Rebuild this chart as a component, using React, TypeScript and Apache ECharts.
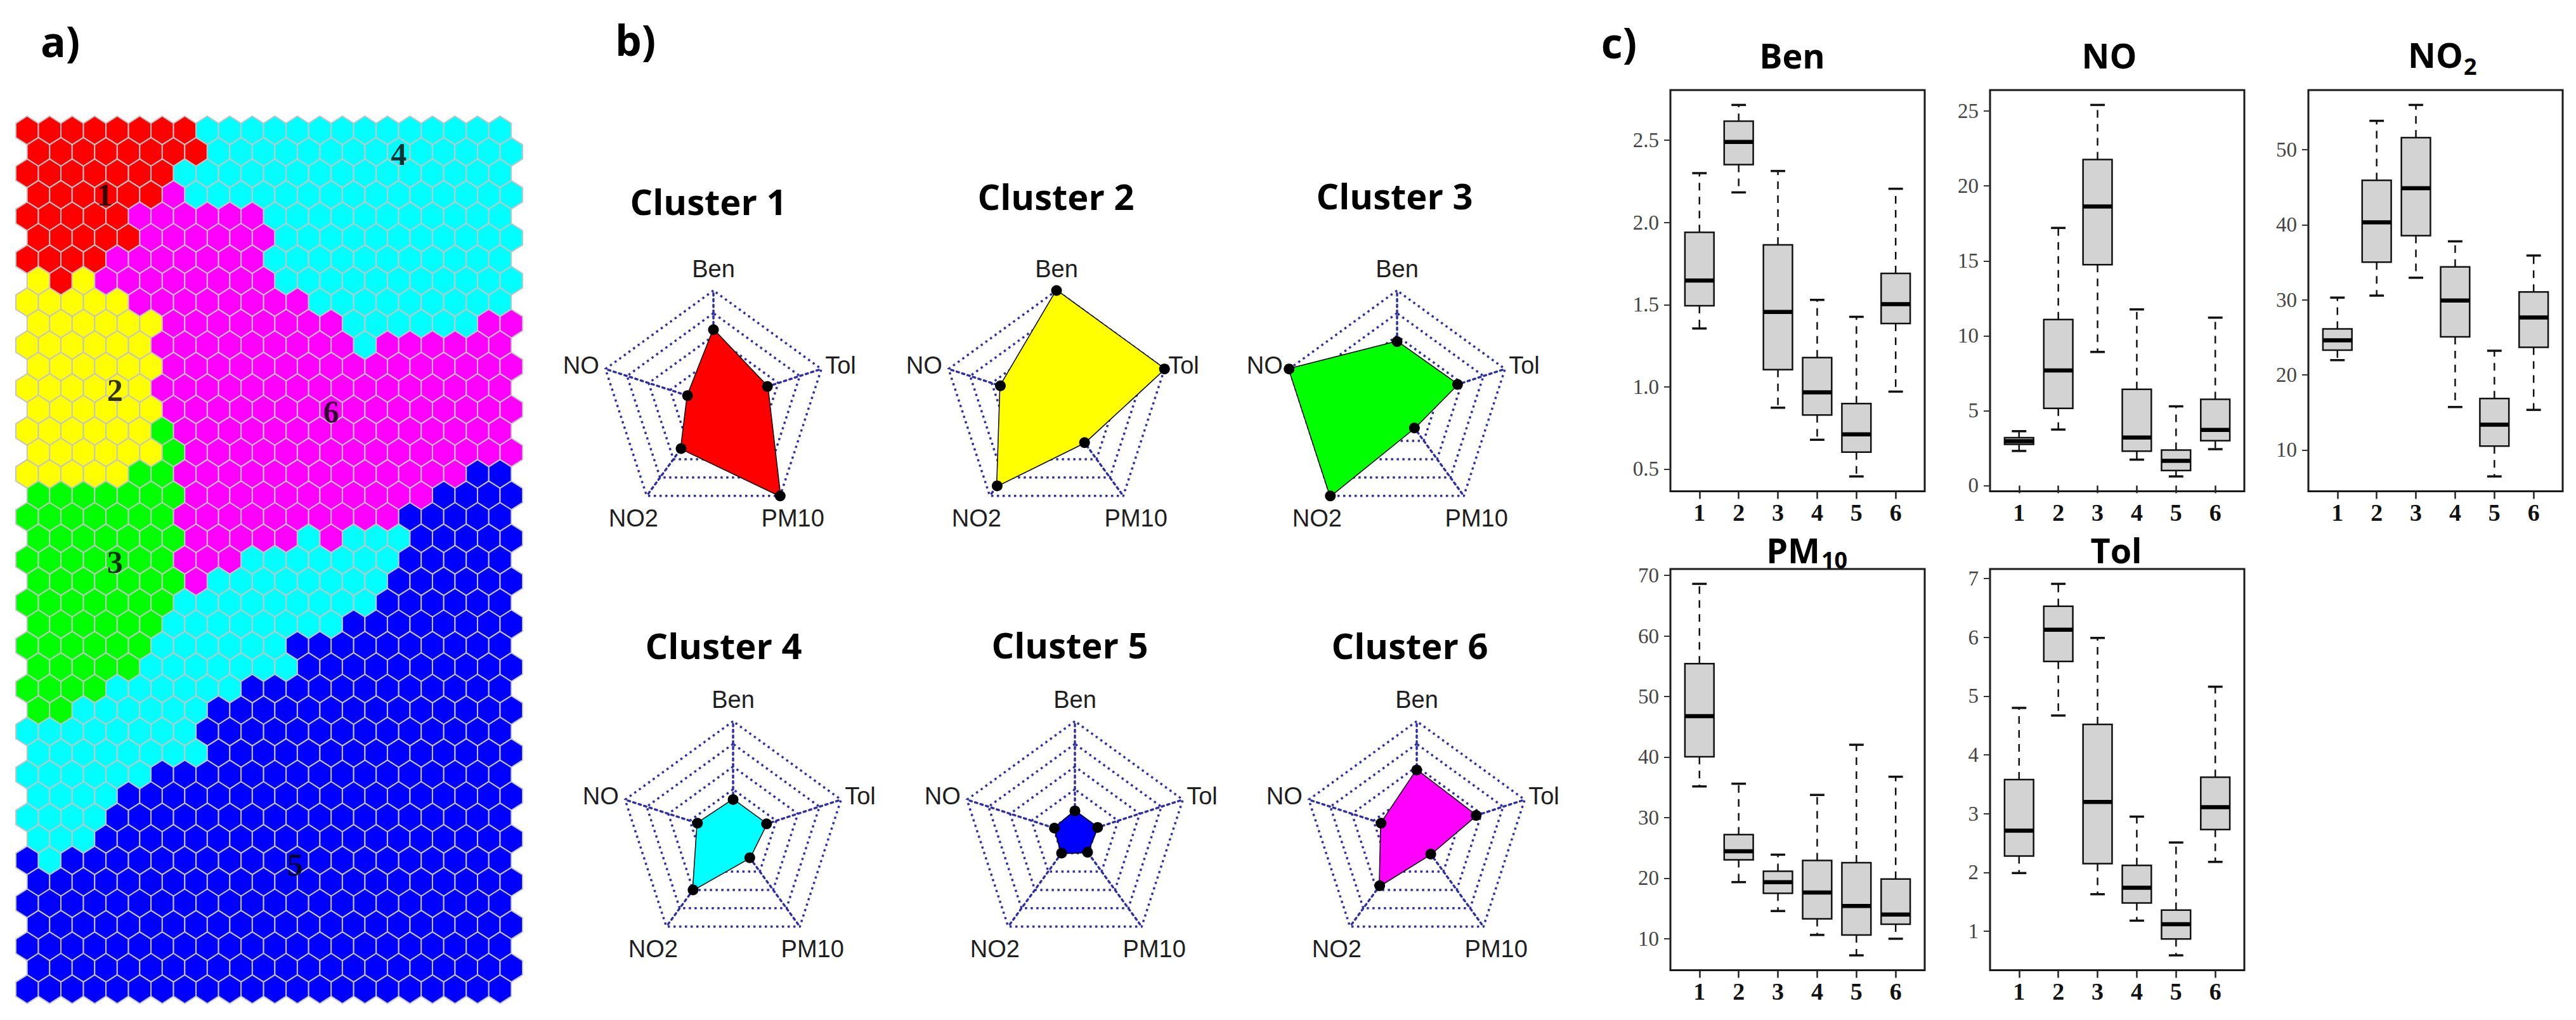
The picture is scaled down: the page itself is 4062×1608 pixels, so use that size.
import React, { useEffect, useRef } from "react";
import * as echarts from "echarts";

const W = 4062;
const H = 1608;

// ---------- colours ----------
const CLUSTER_COLORS = ["#ff0000", "#ffff00", "#00ff00", "#00ffff", "#0000ff", "#ff00ff"];
const HEX_BORDER = "#c4c4c4";
const GRID_BLUE = "#2f2fa2";

// ---------- a) SOM hex map: cluster per hexagon, row by row as [cluster, count] runs ----------
const HEX_ROWS: number[][][] = [
  [[1, 8], [4, 14]],
  [[1, 8], [4, 14]],
  [[1, 7], [4, 15]],
  [[1, 6], [6, 1], [4, 15]],
  [[1, 5], [6, 6], [4, 11]],
  [[1, 5], [6, 6], [4, 11]],
  [[1, 4], [6, 7], [4, 11]],
  [[2, 1], [1, 1], [2, 1], [6, 8], [4, 11]],
  [[2, 5], [6, 8], [4, 9]],
  [[2, 6], [6, 8], [4, 6], [6, 2]],
  [[2, 6], [6, 9], [4, 1], [6, 6]],
  [[2, 6], [6, 16]],
  [[2, 6], [6, 16]],
  [[2, 6], [6, 16]],
  [[2, 6], [3, 1], [6, 15]],
  [[2, 6], [3, 1], [6, 15]],
  [[2, 5], [3, 2], [6, 13], [5, 2]],
  [[3, 7], [6, 11], [5, 4]],
  [[3, 7], [6, 10], [5, 5]],
  [[3, 7], [6, 5], [4, 1], [6, 1], [4, 3], [5, 5]],
  [[3, 7], [6, 3], [4, 7], [5, 5]],
  [[3, 7], [6, 1], [4, 8], [5, 6]],
  [[3, 7], [4, 9], [5, 6]],
  [[3, 6], [4, 8], [5, 8]],
  [[3, 6], [4, 6], [5, 10]],
  [[3, 5], [4, 7], [5, 10]],
  [[3, 4], [4, 6], [5, 12]],
  [[3, 2], [4, 6], [5, 14]],
  [[4, 8], [5, 14]],
  [[4, 8], [5, 14]],
  [[4, 6], [5, 16]],
  [[4, 4], [5, 18]],
  [[4, 4], [5, 18]],
  [[4, 3], [5, 19]],
  [[5, 1], [4, 1], [5, 20]],
  [[5, 22]],
  [[5, 22]],
  [[5, 22]],
  [[5, 22]],
  [[5, 22]],
  [[5, 22]],
];
const HEX_COLS = 22;

// cluster number labels on the map (column, row in map units)
const MAP_LABELS = [
  { name: "1", value: [3.45, 3.0] },
  { name: "4", value: [16.5, 1.1] },
  { name: "2", value: [3.9, 12.1] },
  { name: "6", value: [13.5, 13.1] },
  { name: "3", value: [3.9, 20.1] },
  { name: "5", value: [11.9, 34.2] },
];

// ---------- b) radar profiles (scaled 0..1), axes counter-clockwise from top ----------
const RADAR_AXES = ["Ben", "NO", "NO2", "PM10", "Tol"];
const RADAR_C1 = [0.655, 0.24, 0.485, 1.0, 0.5];
const RADAR_C2 = [1.0, 0.52, 0.89, 0.42, 1.0];
const RADAR_C3 = [0.55, 1.0, 1.0, 0.26, 0.56];
const RADAR_C4 = [0.31, 0.33, 0.6, 0.25, 0.31];
const RADAR_C5 = [0.21, 0.19, 0.2, 0.19, 0.21];
const RADAR_C6 = [0.57, 0.33, 0.555, 0.21, 0.55];
const RADAR_VALUES = [RADAR_C1, RADAR_C2, RADAR_C3, RADAR_C4, RADAR_C5, RADAR_C6];
const CLUSTER_NAMES = ["Cluster 1", "Cluster 2", "Cluster 3", "Cluster 4", "Cluster 5", "Cluster 6"];

// ---------- c) box plots: [min, Q1, median, Q3, max] for clusters 1..6 ----------
const CLUSTERS = [1, 2, 3, 4, 5, 6];
const BOX_BEN = [
  [1.355, 1.493, 1.647, 1.94, 2.3],
  [2.183, 2.352, 2.49, 2.616, 2.715],
  [0.873, 1.105, 1.456, 1.864, 2.313],
  [0.678, 0.829, 0.967, 1.178, 1.529],
  [0.455, 0.603, 0.711, 0.898, 1.426],
  [0.971, 1.385, 1.503, 1.69, 2.205],
];
const BOX_NO = [
  [2.31, 2.75, 2.96, 3.2, 3.63],
  [3.74, 5.15, 7.68, 11.08, 17.2],
  [8.92, 14.75, 18.63, 21.76, 25.41],
  [1.73, 2.3, 3.21, 6.42, 11.76],
  [0.61, 1.0, 1.65, 2.37, 5.29],
  [2.43, 3.0, 3.72, 5.76, 11.21],
];
const BOX_NO2 = [
  [21.97, 23.3, 24.62, 26.13, 30.3],
  [30.57, 35.03, 40.34, 45.94, 53.86],
  [32.95, 38.56, 44.88, 51.63, 55.98],
  [15.72, 25.07, 29.92, 34.4, 37.8],
  [6.47, 10.52, 13.37, 16.86, 23.22],
  [15.34, 23.67, 27.65, 31.06, 35.91],
];
const BOX_PM10 = [
  [35.15, 40.06, 46.75, 55.41, 68.6],
  [19.35, 23.04, 24.45, 27.19, 35.6],
  [14.58, 17.51, 19.35, 21.14, 23.88],
  [10.63, 13.3, 17.63, 22.92, 33.75],
  [7.26, 10.63, 15.4, 22.55, 42.03],
  [10.0, 12.41, 14.0, 19.86, 36.75],
];
const BOX_TOL = [
  [1.99, 2.28, 2.71, 3.58, 4.8],
  [4.67, 5.59, 6.13, 6.53, 6.91],
  [1.63, 2.15, 3.2, 4.52, 5.99],
  [1.18, 1.48, 1.74, 2.12, 2.95],
  [0.59, 0.87, 1.12, 1.36, 2.51],
  [2.18, 2.73, 3.11, 3.62, 5.16],
];
const TICKS_BEN = [0.5, 1.0, 1.5, 2.0, 2.5];
const TICKS_NO = [0, 5, 10, 15, 20, 25];
const TICKS_NO2 = [10, 20, 30, 40, 50];
const TICKS_PM10 = [10, 20, 30, 40, 50, 60, 70];
const TICKS_TOL = [1, 2, 3, 4, 5, 6, 7];

// ---------- layout ----------
const MAP_BOX = { left: 25, top: 183, width: 799, height: 1399 };
const RADAR_R = 179;
const RADAR_CENTERS = [
  [1125, 637],
  [1666, 637],
  [2203, 637],
  [1156, 1316],
  [1695, 1316],
  [2234, 1316],
];
const TITLE_POS = [
  [1117, 317],
  [1665, 309],
  [2199, 308],
  [1141, 1017],
  [1687, 1016],
  [2223, 1017],
];
const BOX_PANELS = [
  { data: BOX_BEN, ticks: TICKS_BEN, dec: 1, left: 2634, top: 142 },
  { data: BOX_NO, ticks: TICKS_NO, dec: 0, left: 3138, top: 142 },
  { data: BOX_NO2, ticks: TICKS_NO2, dec: 0, left: 3640, top: 142 },
  { data: BOX_PM10, ticks: TICKS_PM10, dec: 0, left: 2634, top: 897 },
  { data: BOX_TOL, ticks: TICKS_TOL, dec: 0, left: 3138, top: 897 },
];
const PANEL_W = 401;
const PANEL_H = 632.5;
const BOX_WEX = 0.74;

const SANS_B = "'Open Sans', 'Liberation Sans', Arial, sans-serif";
const ARIAL = "'Liberation Sans', Arial, sans-serif";
const SERIF = "'Liberation Serif', 'Times New Roman', serif";

function txt(text: string, x: number, y: number, o: any = {}) {
  const align = o.align || "center";
  const size = o.size || 40;
  return {
    type: "text",
    x,
    y,
    silent: true,
    style: {
      text,
      fill: o.color || "#000",
      fontSize: size,
      lineHeight: o.lineHeight || Math.round(size * 0.9),
      fontFamily: o.family || SANS_B,
      fontWeight: o.weight || "bold",
      textAlign: align,
      align,
      textVerticalAlign: "middle",
      verticalAlign: "middle",
    },
  };
}

function buildOption(): any {
  // hex cells
  const hexData: number[][] = [];
  HEX_ROWS.forEach((runs, r) => {
    let c = 0;
    runs.forEach(([cl, n]) => {
      for (let k = 0; k < n; k++) {
        if (c < HEX_COLS) hexData.push([c + (r % 2 ? 0.5 : 0), r, cl]);
        c++;
      }
    });
  });
  const nRows = HEX_ROWS.length;

  const grids: any[] = [{ ...MAP_BOX, show: false }];
  const xAxes: any[] = [{ type: "value", gridIndex: 0, min: -0.5, max: HEX_COLS, show: false }];
  const yAxes: any[] = [
    { type: "value", gridIndex: 0, min: -2 / 3, max: nRows - 1 + 2 / 3, inverse: true, show: false },
  ];

  const series: any[] = [
    {
      type: "custom",
      xAxisIndex: 0,
      yAxisIndex: 0,
      silent: true,
      data: hexData,
      renderItem: (_p: any, api: any) => {
        const c = api.coord([api.value(0), api.value(1)]);
        const s = api.size([1, 1]);
        const hw = Math.abs(s[0]) / 2;
        const q = Math.abs(s[1]) / 3;
        const cl = api.value(2);
        return {
          type: "polygon",
          shape: {
            points: [
              [c[0], c[1] - 2 * q],
              [c[0] + hw, c[1] - q],
              [c[0] + hw, c[1] + q],
              [c[0], c[1] + 2 * q],
              [c[0] - hw, c[1] + q],
              [c[0] - hw, c[1] - q],
            ],
          },
          style: { fill: CLUSTER_COLORS[cl - 1], stroke: HEX_BORDER, lineWidth: 2 },
        };
      },
    },
    {
      type: "scatter",
      xAxisIndex: 0,
      yAxisIndex: 0,
      silent: true,
      symbolSize: 1,
      itemStyle: { color: "rgba(0,0,0,0)" },
      data: MAP_LABELS,
      label: {
        show: true,
        position: "inside",
        formatter: (p: any) => p.name,
        fontFamily: SERIF,
        fontWeight: "bold",
        fontSize: 50,
        color: "#000",
      },
      z: 5,
    },
  ];

  // radars
  const dotted = { color: GRID_BLUE, width: 3.5, type: [3.5, 5.5] };
  const radars = RADAR_CENTERS.map((c) => ({
    center: c,
    radius: RADAR_R,
    startAngle: 90,
    shape: "polygon",
    splitNumber: 5,
    indicator: RADAR_AXES.map((name) => ({ name, min: 0, max: 1 })),
    axisName: { show: false },
    splitLine: { lineStyle: dotted },
    splitArea: { show: false },
    axisLine: { lineStyle: dotted },
    axisTick: { show: false },
    axisLabel: { show: false },
  }));
  RADAR_VALUES.forEach((vals, i) => {
    series.push({
      type: "radar",
      radarIndex: i,
      silent: true,
      symbol: "circle",
      symbolSize: 17,
      data: [{ name: CLUSTER_NAMES[i], value: vals }],
      itemStyle: { color: "#000" },
      lineStyle: { color: "#000", width: 3 },
      areaStyle: { color: CLUSTER_COLORS[i], opacity: 1 },
      z: 3,
    });
  });

  // box plots
  BOX_PANELS.forEach((p, k) => {
    const g = k + 1;
    let lo = Infinity;
    let hi = -Infinity;
    p.data.forEach((d) => {
      lo = Math.min(lo, d[0]);
      hi = Math.max(hi, d[4]);
    });
    const pad = 0.04 * (hi - lo);
    grids.push({
      left: p.left,
      top: p.top,
      width: PANEL_W,
      height: PANEL_H,
      show: true,
      borderColor: "#1a1a1a",
      borderWidth: 3,
      backgroundColor: "rgba(0,0,0,0)",
    });
    xAxes.push({
      type: "value",
      gridIndex: g,
      min: 0.5 - 0.04 * 6,
      max: 6.5 + 0.04 * 6,
      axisLine: { show: false },
      splitLine: { show: false },
      axisTick: { show: true, customValues: CLUSTERS, length: 12, lineStyle: { color: "#222", width: 2.5 } },
      axisLabel: {
        show: true,
        customValues: CLUSTERS,
        formatter: (v: number) => String(v),
        fontFamily: SERIF,
        fontWeight: "bold",
        fontSize: 38,
        lineHeight: 30,
        color: "#111",
        margin: 18,
      },
    });
    yAxes.push({
      type: "value",
      gridIndex: g,
      min: lo - pad,
      max: hi + pad,
      axisLine: { show: false },
      splitLine: { show: false },
      axisTick: { show: true, customValues: p.ticks, length: 10, lineStyle: { color: "#333", width: 2 } },
      axisLabel: {
        show: true,
        customValues: p.ticks,
        formatter: (v: number) => v.toFixed(p.dec),
        fontFamily: SERIF,
        fontSize: 33,
        color: "#444",
        margin: 18,
      },
    });
    series.push({
      type: "custom",
      xAxisIndex: g,
      yAxisIndex: g,
      silent: true,
      data: p.data.map((d, i) => [CLUSTERS[i], ...d]),
      encode: { x: 0, y: [1, 2, 3, 4, 5] },
      renderItem: (_pp: any, api: any) => {
        const x = api.value(0);
        const pts = [1, 2, 3, 4, 5].map((j) => api.coord([x, api.value(j)]));
        const cx = pts[0][0];
        const bw = Math.abs(api.size([BOX_WEX, 0])[0]);
        const hw = bw / 2;
        const cw = bw / 4;
        const yMin = pts[0][1];
        const yQ1 = pts[1][1];
        const yMed = pts[2][1];
        const yQ3 = pts[3][1];
        const yMax = pts[4][1];
        const dash = { stroke: "#111", lineWidth: 2.5, lineDash: [12, 10] };
        const solid = { stroke: "#111", lineWidth: 3.5 };
        return {
          type: "group",
          children: [
            { type: "line", shape: { x1: cx, y1: yQ3, x2: cx, y2: yMax }, style: dash },
            { type: "line", shape: { x1: cx, y1: yQ1, x2: cx, y2: yMin }, style: dash },
            { type: "line", shape: { x1: cx - cw, y1: yMax, x2: cx + cw, y2: yMax }, style: solid },
            { type: "line", shape: { x1: cx - cw, y1: yMin, x2: cx + cw, y2: yMin }, style: solid },
            {
              type: "rect",
              shape: { x: cx - hw, y: yQ3, width: bw, height: yQ1 - yQ3 },
              style: { fill: "#d3d3d3", stroke: "#111", lineWidth: 2.5 },
            },
            {
              type: "line",
              shape: { x1: cx - hw, y1: yMed, x2: cx + hw, y2: yMed },
              style: { stroke: "#000", lineWidth: 6.5 },
            },
          ],
        };
      },
    });
  });

  // texts
  const graphics: any[] = [
    txt("a)", 95, 64, { size: 66 }),
    txt("b)", 1002, 62, { size: 66 }),
    txt("c)", 2553, 66, { size: 66 }),
  ];
  TITLE_POS.forEach((p, i) => graphics.push(txt(CLUSTER_NAMES[i], p[0], p[1], { size: 56 })));
  const sin72 = Math.sin((72 * Math.PI) / 180);
  const cos72 = Math.cos((72 * Math.PI) / 180);
  const sin36 = Math.sin((36 * Math.PI) / 180);
  const cos36 = Math.cos((36 * Math.PI) / 180);
  const lab = { size: 38, family: ARIAL, weight: "normal", color: "#1e1e1e" };
  RADAR_CENTERS.forEach(([cx, cy]) => {
    const R = RADAR_R;
    graphics.push(txt("Ben", cx, cy - R - 34, lab));
    graphics.push(txt("NO", cx - R * sin72 - 10, cy - R * cos72 - 6, { ...lab, align: "right" }));
    graphics.push(txt("Tol", cx + R * sin72 + 6, cy - R * cos72 - 6, { ...lab, align: "left" }));
    graphics.push(txt("NO2", cx - R * sin36 - 21, cy + R * cos36 + 35, lab));
    graphics.push(txt("PM10", cx + R * sin36 + 20, cy + R * cos36 + 35, lab));
  });
  const bt = { size: 54, lineHeight: 44 };
  const sub = { size: 36, lineHeight: 30 };
  graphics.push(txt("Ben", 2826, 87, bt));
  graphics.push(txt("NO", 3326, 87, bt));
  graphics.push(txt("NO", 3884, 86, { ...bt, align: "right" }));
  graphics.push(txt("2", 3885, 104, { ...sub, align: "left" }));
  graphics.push(txt("PM", 2870, 867, { ...bt, align: "right" }));
  graphics.push(txt("10", 2872, 882, { ...sub, align: "left" }));
  graphics.push(txt("Tol", 3337, 867, bt));

  return {
    animation: false,
    backgroundColor: "#ffffff",
    textStyle: { fontFamily: ARIAL },
    grid: grids,
    xAxis: xAxes,
    yAxis: yAxes,
    radar: radars,
    series,
    graphic: graphics,
  };
}

export default function App() {
  const ref = useRef<HTMLDivElement>(null);
  useEffect(() => {
    document.body.style.margin = "0";
    const chart = echarts.init(ref.current as HTMLDivElement, undefined, {
      renderer: "svg",
      width: W,
      height: H,
    });
    chart.setOption(buildOption());
    return () => chart.dispose();
  }, []);
  return <div ref={ref} style={{ width: W, height: H, background: "#fff", overflow: "hidden" }} />;
}
